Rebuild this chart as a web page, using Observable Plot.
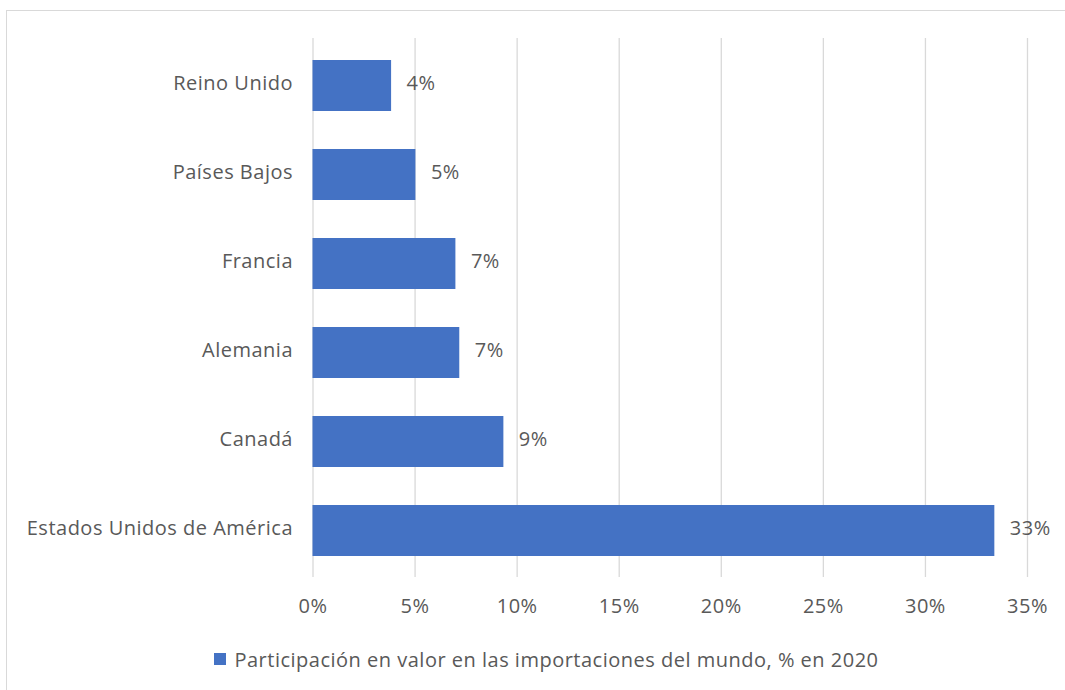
<!DOCTYPE html>
<html>
<head>
<meta charset="utf-8">
<script src="https://cdn.jsdelivr.net/npm/d3@7"></script>
<script src="https://cdn.jsdelivr.net/npm/@observablehq/plot@0.6"></script>
<style>
  html, body { margin: 0; padding: 0; background: #fff; }
  body { width: 1065px; height: 690px; overflow: hidden; position: relative; font-family: "Open Sans", sans-serif; }
  #frame { position: absolute; left: 6px; top: 10px; width: 1200px; height: 800px; border: 1.5px solid #d9d9d9; box-sizing: border-box; pointer-events: none; }
  #chart { position: absolute; left: 0; top: 0; }
  #chart svg text { letter-spacing: 0.5px; }
  #legend { position: absolute; left: 0; top: 639px; width: 1065px; height: 40px; display: flex; align-items: center; justify-content: center; gap: 8px; font-size: 20px; letter-spacing: 0.5px; color: #595959; padding-left: 28px; box-sizing: border-box; }
  #legend .sw { width: 12px; height: 12px; background: #4472C4; display: inline-block; }
</style>
</head>
<body>
<div id="frame"></div>
<div id="chart"></div>
<div id="legend"><span class="sw"></span><span id="legend-text"></span></div>
<script>
const countries = ["Reino Unido", "Países Bajos", "Francia", "Alemania", "Canadá", "Estados Unidos de América"];
const shares = [3.85, 5.04, 7.0, 7.19, 9.35, 33.4];
const xTicks = [0, 5, 10, 15, 20, 25, 30, 35];
const seriesName = "Participación en valor en las importaciones del mundo, % en 2020";

const data = countries.map((c, i) => ({country: c, value: shares[i], label: Math.round(shares[i]) + "%"}));

const chart = Plot.plot({
  width: 1065,
  height: 640,
  marginLeft: 312.5,
  marginRight: 38,
  marginTop: 38,
  marginBottom: 63,
  style: {fontFamily: "Open Sans, sans-serif", fontSize: "20px", color: "#595959", background: "transparent"},
  x: {domain: [0, 35], ticks: xTicks, tickFormat: d => d + "%", label: null},
  y: {domain: countries, paddingInner: 0.43, paddingOuter: 0.215, label: null},
  marks: [
    Plot.gridX(xTicks, {stroke: "#d9d9d9", strokeOpacity: 1, strokeWidth: 1.3}),
    Plot.barX(data, {x: "value", y: "country", fill: "#4472C4"}),
    Plot.text(data, {x: "value", y: "country", text: "label", textAnchor: "start", dx: 15, dy: -2, fill: "#595959", fontSize: 20}),
    Plot.axisX(xTicks, {tickSize: 0, tickPadding: 21, tickFormat: d => d + "%", fill: "#595959", fontSize: 20, label: null}),
    Plot.axisY({tickSize: 0, tickPadding: 20, dy: -2, fill: "#595959", fontSize: 20, label: null})
  ]
});
document.getElementById("chart").appendChild(chart);
document.getElementById("legend-text").textContent = seriesName;
</script>
</body>
</html>
